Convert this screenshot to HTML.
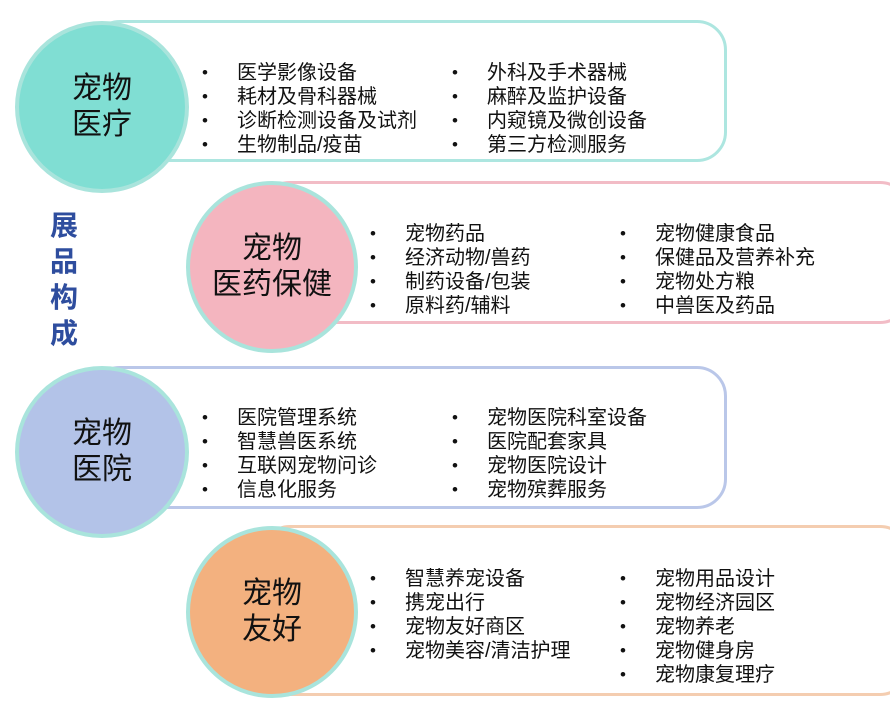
<!DOCTYPE html>
<html><head><meta charset="utf-8"><style>
body{margin:0;width:890px;height:704px;background:#fff;position:relative;overflow:hidden;font-family:"Liberation Sans","Noto Sans CJK SC",sans-serif;color:#111}
.r{position:absolute;border:3px solid;border-radius:30px;background:#fff;box-sizing:border-box}
.c{position:absolute;border-radius:50%;border:4px solid #a9e4dc;box-sizing:border-box;display:flex;align-items:center;justify-content:center;text-align:center;font-size:30px;line-height:36px}
.t{position:absolute;font-size:20px;line-height:24px;white-space:nowrap}
.t div{position:relative;padding-left:33px}
.t div:before{content:"•";position:absolute;left:-2px;font-size:17px}
.v{position:absolute;left:50px;top:208px;color:#2e4d9e;font-weight:bold;font-size:28px;line-height:36px;width:32px}
</style></head><body>
<div class="r" style="left:90px;top:20px;width:637px;height:142px;border-color:#ade6e0"></div>
<div class="c" style="left:15px;top:21px;width:174px;height:172px;background:#80ded3">宠物<br>医疗</div>
<div class="t" style="left:204px;top:61px"><div>医学影像设备</div><div>耗材及骨科器械</div><div>诊断检测设备及试剂</div><div>生物制品/疫苗</div></div>
<div class="t" style="left:454px;top:61px"><div>外科及手术器械</div><div>麻醉及监护设备</div><div>内窥镜及微创设备</div><div>第三方检测服务</div></div>

<div class="r" style="left:260px;top:181px;width:650px;height:143px;border-color:#f2bcc6"></div>
<div class="c" style="left:186px;top:181px;width:172px;height:172px;background:#f4b5bf">宠物<br>医药保健</div>
<div class="t" style="left:372px;top:222px"><div>宠物药品</div><div>经济动物/兽药</div><div>制药设备/包装</div><div>原料药/辅料</div></div>
<div class="t" style="left:622px;top:222px"><div>宠物健康食品</div><div>保健品及营养补充</div><div>宠物处方粮</div><div>中兽医及药品</div></div>

<div class="r" style="left:90px;top:366px;width:637px;height:143px;border-color:#bac7e9"></div>
<div class="c" style="left:15px;top:366px;width:174px;height:172px;background:#b3c3e8">宠物<br>医院</div>
<div class="t" style="left:204px;top:406px"><div>医院管理系统</div><div>智慧兽医系统</div><div>互联网宠物问诊</div><div>信息化服务</div></div>
<div class="t" style="left:454px;top:406px"><div>宠物医院科室设备</div><div>医院配套家具</div><div>宠物医院设计</div><div>宠物殡葬服务</div></div>

<div class="r" style="left:260px;top:525px;width:650px;height:171px;border-color:#f4cdb0"></div>
<div class="c" style="left:186px;top:526px;width:172px;height:172px;background:#f3b17f">宠物<br>友好</div>
<div class="t" style="left:372px;top:567px"><div>智慧养宠设备</div><div>携宠出行</div><div>宠物友好商区</div><div>宠物美容/清洁护理</div></div>
<div class="t" style="left:622px;top:567px"><div>宠物用品设计</div><div>宠物经济园区</div><div>宠物养老</div><div>宠物健身房</div><div>宠物康复理疗</div></div>

<div class="v">展<br>品<br>构<br>成</div>
</body></html>
